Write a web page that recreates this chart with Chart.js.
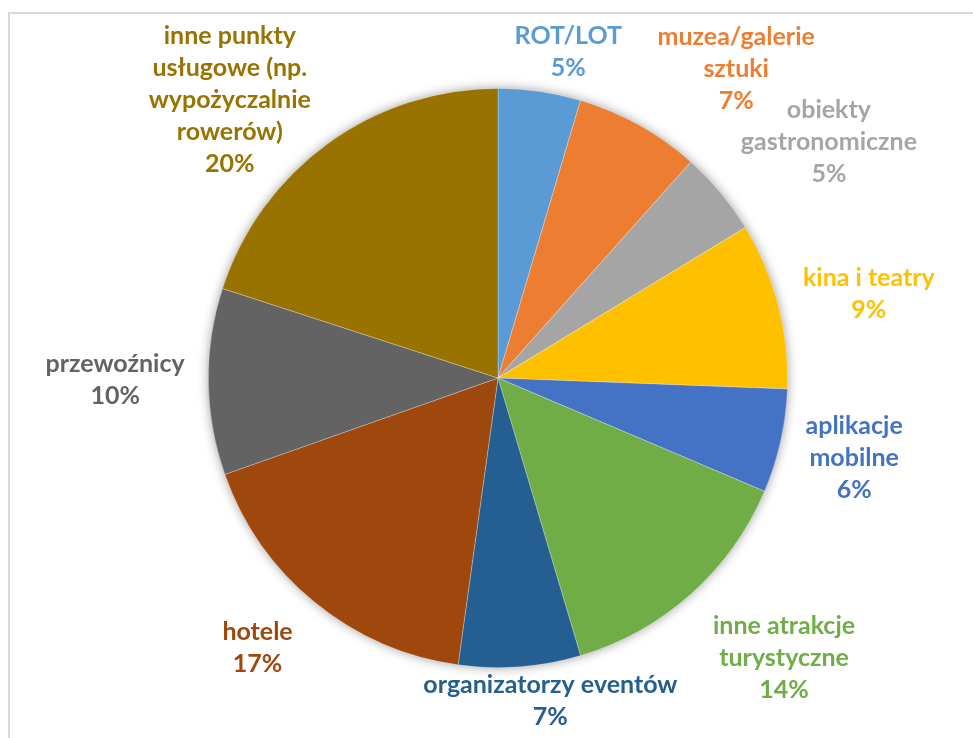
<!DOCTYPE html>
<html><head><meta charset="utf-8">
<script src="https://cdn.jsdelivr.net/npm/chart.js@4.4.1/dist/chart.umd.min.js"></script>
<style>
html,body{margin:0;padding:0;background:#fff;}
#wrap{position:relative;width:973px;height:738px;overflow:hidden;background:#fff;}
#frame{position:absolute;left:8px;top:12px;width:1000px;height:800px;border:2px solid #d9d9d9;box-sizing:border-box;}
canvas{position:absolute;left:0;top:0;}
</style></head><body>
<div id="wrap"><div id="frame"></div><canvas id="c" width="973" height="738"></canvas></div>
<script>
// Categories (wrapped as in the reference)
const categories = [
  ["ROT/LOT"],
  ["muzea/galerie", "sztuki"],
  ["obiekty", "gastronomiczne"],
  ["kina i teatry"],
  ["aplikacje", "mobilne"],
  ["inne atrakcje", "turystyczne"],
  ["organizatorzy eventów"],
  ["hotele"],
  ["przewoźnicy"],
  ["inne punkty", "usługowe (np.", "wypożyczalnie", "rowerów)"]
];
// Shares (%)
const values = [4.6, 7.0, 4.7, 9.3, 5.8, 14.0, 6.8, 17.4, 10.4, 20.0];

const sliceColors = ["#5B9BD5", "#ED7D31", "#A5A5A5", "#FFC000", "#4472C4",
                     "#70AD47", "#255E91", "#9E480E", "#636363", "#997300"];

const shadowPlugin = {
  id: 'pieShadow',
  beforeDatasetsDraw(chart) {
    const arc = chart.getDatasetMeta(0).data[0];
    if (!arc) return;
    const ctx = chart.ctx;
    ctx.save();
    ctx.shadowColor = 'rgba(0,0,0,0.45)';
    ctx.shadowBlur = 12;
    ctx.fillStyle = '#ffffff';
    ctx.beginPath();
    ctx.arc(arc.x, arc.y, arc.outerRadius - 1, 0, Math.PI * 2);
    ctx.fill();
    ctx.restore();
  }
};

const labelPlugin = {
  id: 'outerLabels',
  afterDatasetsDraw(chart, args, opts) {
    const meta = chart.getDatasetMeta(0);
    const ds = chart.data.datasets[0];
    const total = ds.data.reduce((a, b) => a + b, 0);
    const ctx = chart.ctx;
    ctx.save();
    ctx.font = opts.font;
    ctx.textAlign = 'center';
    ctx.textBaseline = 'middle';
    meta.data.forEach((arc, i) => {
      const mid = (arc.startAngle + arc.endAngle) / 2 + opts.angleShift[i] * Math.PI / 180;
      const r = arc.outerRadius * opts.radiusFactor[i];
      const cx = arc.x + Math.cos(mid) * r;
      const cy = arc.y + Math.sin(mid) * r;
      const lines = chart.data.labels[i].concat([Math.round(ds.data[i] / total * 100) + '%']);
      const lh = opts.lineHeight;
      const top = cy - (lines.length - 1) * lh / 2;
      ctx.fillStyle = ds.backgroundColor[i];
      lines.forEach((t, k) => ctx.fillText(t, cx, top + k * lh));
    });
    ctx.restore();
  }
};

new Chart(document.getElementById('c'), {
  type: 'pie',
  data: {
    labels: categories,
    datasets: [{
      data: values,
      backgroundColor: sliceColors,
      borderColor: 'rgba(255,255,255,0.35)',
      borderWidth: 0.75
    }]
  },
  options: {
    responsive: false,
    animation: false,
    layout: { padding: { top: 88, bottom: 70, left: 208, right: 185 } },
    plugins: {
      legend: { display: false },
      tooltip: { enabled: false },
      outerLabels: {
        font: 'bold 25px Lato',
        lineHeight: 32,
        radiusFactor: [1.150, 1.346, 1.403, 1.313, 1.260, 1.381, 1.128, 1.247, 1.322, 1.333],
        angleShift:   [3.9, 8.5, 4.3, 1.8, 0, -3.9, -4.9, 2.5, 0.4, -8.0]
      }
    }
  },
  plugins: [shadowPlugin, labelPlugin]
});
</script>
</body></html>
